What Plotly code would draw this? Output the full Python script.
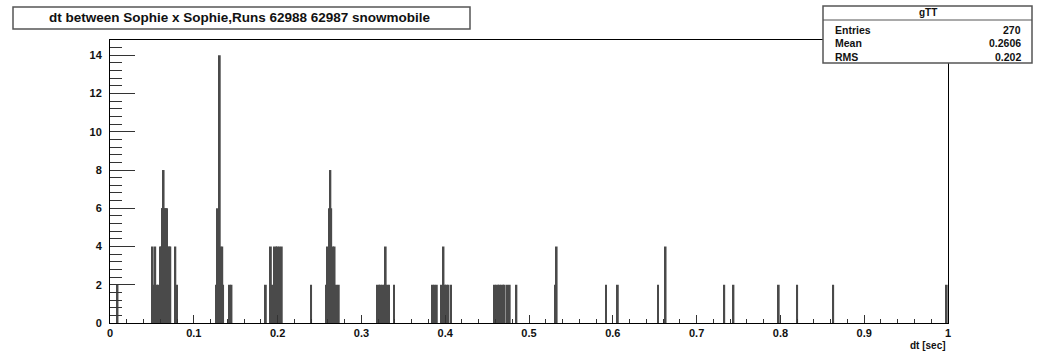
import plotly.graph_objects as go

# ---- data ----
dt_centers = [0.009,
              0.051, 0.053, 0.054, 0.056, 0.058, 0.060, 0.061, 0.062, 0.063, 0.064,
              0.065, 0.066, 0.067, 0.068, 0.069, 0.071, 0.072, 0.078, 0.080,
              0.127, 0.128, 0.130, 0.131, 0.132, 0.134, 0.135, 0.143, 0.145,
              0.186, 0.192, 0.194, 0.196, 0.198, 0.200, 0.202, 0.205,
              0.240,
              0.258, 0.260, 0.262, 0.263, 0.264, 0.266, 0.268, 0.270, 0.273,
              0.319, 0.321, 0.323, 0.325, 0.327, 0.329, 0.331, 0.333, 0.339,
              0.385, 0.387, 0.390, 0.396, 0.398, 0.400, 0.402, 0.404, 0.407,
              0.459, 0.461, 0.463, 0.465, 0.467, 0.469, 0.471, 0.474, 0.477, 0.485,
              0.531, 0.533,
              0.592, 0.606, 0.654, 0.663, 0.733, 0.744, 0.798, 0.820, 0.863, 0.9985]
counts = [2,
          4, 2, 4, 2, 2, 4, 4, 6, 6, 8,
          6, 6, 6, 6, 4, 4, 4, 4, 2,
          2, 6, 6, 14, 4, 4, 2, 2, 2,
          2, 4, 2, 4, 4, 4, 4, 4,
          2,
          2, 4, 6, 8, 6, 4, 4, 2, 2,
          2, 2, 2, 2, 2, 4, 2, 2, 2,
          2, 2, 2, 2, 4, 2, 2, 2, 2,
          2, 2, 2, 2, 2, 2, 2, 2, 2, 2,
          2, 4,
          2, 2, 2, 4, 2, 2, 2, 2, 2, 2]

title_text = "dt between Sophie x Sophie,Runs 62988 62987 snowmobile"
stats_name = "gTT"
stats_labels = ["Entries", "Mean", "RMS"]
stats_values = ["270", "0.2606", "0.202"]
x_title = "dt [sec]"

# ---- figure ----
W, H = 1040, 353
L, R, T, B = 110, 92, 40, 30
pw, ph = W - L - R, H - T - B


def px(x):
    return (x - L) / pw


def py(y):
    return (H - B - y) / ph


FONT = "Liberation Sans"
fig = go.Figure()
fig.add_trace(go.Bar(x=dt_centers, y=counts, width=0.0022,
                     marker=dict(color="#4a4a4a", line=dict(width=0)),
                     showlegend=False, hoverinfo="x+y"))

axis_common = dict(showline=True, linecolor="black", linewidth=1, mirror=True,
                   showgrid=False, zeroline=False, ticks="inside", tickcolor="#333",
                   tickfont=dict(family=FONT, size=11, color="#111", weight="bold"))

fig.update_layout(
    width=W, height=H,
    margin=dict(l=L, r=R, t=T, b=B),
    paper_bgcolor="white", plot_bgcolor="white",
    xaxis=dict(range=[0, 1], tick0=0, dtick=0.1, ticklen=8,
               minor=dict(dtick=0.02, ticks="inside", ticklen=4, tickcolor="#333", showgrid=False),
               **axis_common),
    yaxis=dict(range=[0, 14.8], tick0=0, dtick=2, ticklen=25, ticklabelstandoff=5,
               minor=dict(dtick=0.4, ticks="inside", ticklen=12, tickcolor="#333", showgrid=False),
               **axis_common),
    font=dict(family=FONT, color="black"),
)

shapes = []
annotations = []
# title box
shapes.append(dict(type="rect", xref="paper", yref="paper",
                   x0=px(13), x1=px(470), y0=py(29), y1=py(7),
                   line=dict(color="#555", width=1.5), fillcolor="white", layer="above"))
annotations.append(dict(xref="paper", yref="paper", x=px(240), y=py(18),
                        text=title_text, showarrow=False, xanchor="center", yanchor="middle",
                        font=dict(family=FONT, size=13.5, color="#111", weight="bold")))
# stats box
shapes.append(dict(type="rect", xref="paper", yref="paper",
                   x0=px(823), x1=px(1032), y0=py(63), y1=py(6),
                   line=dict(color="#555", width=1.5), fillcolor="white", layer="above"))
shapes.append(dict(type="line", xref="paper", yref="paper",
                   x0=px(823), x1=px(1032), y0=py(20), y1=py(20),
                   line=dict(color="#555", width=1), layer="above"))
annotations.append(dict(xref="paper", yref="paper", x=px(928), y=py(13),
                        text=stats_name, showarrow=False, xanchor="center", yanchor="middle",
                        font=dict(family=FONT, size=10, color="#111", weight="bold")))
for i, (lab, val) in enumerate(zip(stats_labels, stats_values)):
    yy = py(30 + 13.5 * i)
    annotations.append(dict(xref="paper", yref="paper", x=px(833), y=yy, text=lab,
                            showarrow=False, xanchor="left", yanchor="middle",
                            font=dict(family=FONT, size=10.5, color="#111", weight="bold")))
    annotations.append(dict(xref="paper", yref="paper", x=px(1023), y=yy, text=val,
                            showarrow=False, xanchor="right", yanchor="middle",
                            font=dict(family=FONT, size=10.5, color="#111", weight="bold")))
# x axis title
annotations.append(dict(xref="paper", yref="paper", x=1, y=py(345), text=x_title,
                        showarrow=False, xanchor="right", yanchor="middle",
                        font=dict(family=FONT, size=10, color="#111", weight="bold")))

fig.update_layout(shapes=shapes, annotations=annotations)
fig.write_html("out.html")
